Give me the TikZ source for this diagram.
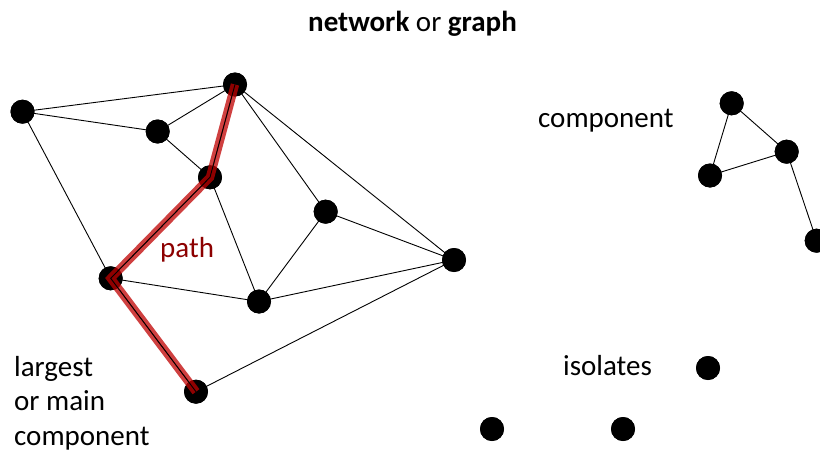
\documentclass[tikz,border=0pt]{standalone}
\usepackage{fontspec}
\setmainfont{Carlito}
\begin{document}
\begin{tikzpicture}[x=1pt,y=-1pt,
  vert/.style={circle,fill=black,minimum size=24pt,inner sep=0pt},
  edge/.style={draw=black,line width=0.9pt},
  pathedge/.style={draw=red!75!black,opacity=0.75,line width=8.5pt},
  lbl/.style={font=\fontsize{29}{34.5}\selectfont,inner sep=0pt}]
\useasboundingbox (0,0) rectangle (820,455);
% main component
\node[vert] (a) at (22.5,111.7) {};
\node[vert] (b) at (157.7,131.5) {};
\node[vert] (c) at (235,84.5) {};
\node[vert] (d) at (210,177.3) {};
\node[vert] (e) at (325.7,211.7) {};
\node[vert] (f) at (454,260) {};
\node[vert] (g) at (110.7,278.3) {};
\node[vert] (h) at (259,301.5) {};
\node[vert] (i) at (196,391.7) {};
% small component
\node[vert] (p1) at (731.7,103.3) {};
\node[vert] (p2) at (786.7,151.7) {};
\node[vert] (p3) at (710,175.5) {};
\node[vert] (p4) at (816.7,240.7) {};
% isolates
\node[vert] (q1) at (708,368) {};
\node[vert] (q2) at (492,429) {};
\node[vert] (q3) at (623,429) {};
% edges
\draw[edge] (a.center) -- (c.center);
\draw[edge] (a.center) -- (b.center);
\draw[edge] (b.center) -- (c.center);
\draw[edge] (a.center) -- (g.center);
\draw[edge] (b.center) -- (d.center);
\draw[edge] (c.center) -- (d.center);
\draw[edge] (c.center) -- (e.center);
\draw[edge] (c.center) -- (f.center);
\draw[edge] (d.center) -- (g.center);
\draw[edge] (d.center) -- (h.center);
\draw[edge] (e.center) -- (h.center);
\draw[edge] (e.center) -- (f.center);
\draw[edge] (g.center) -- (h.center);
\draw[edge] (g.center) -- (i.center);
\draw[edge] (h.center) -- (f.center);
\draw[edge] (i.center) -- (f.center);
\draw[edge] (p1.center) -- (p2.center);
\draw[edge] (p1.center) -- (p3.center);
\draw[edge] (p2.center) -- (p3.center);
\draw[edge] (p2.center) -- (p4.center);
% redraw vertices over edges
\foreach \n in {a,b,c,d,e,f,g,h,i,p1,p2,p3,p4,q1,q2,q3}
  \fill (\n) circle (12pt);
% path highlight
\draw[pathedge] (c.center) -- (d.center) -- (g.center) -- (i.center);
\draw[edge] (c.center) -- (d.center) -- (g.center) -- (i.center);
% labels
\node[lbl,anchor=base] (title) at (412.5,31) {\textbf{network} or \textbf{graph}};
\node[lbl,anchor=base west] (comp) at (538,127) {component};
\node[lbl,anchor=base west,text=red!55!black] (pathlbl) at (160,257) {path};
\node[lbl,anchor=base west] (iso) at (563,375) {isolates};
\node[lbl,anchor=base west] (largest1) at (14,376) {largest};
\node[lbl,anchor=base west] (largest2) at (14,410.5) {or main};
\node[lbl,anchor=base west] (largest3) at (14,445) {component};
\end{tikzpicture}
\end{document}
